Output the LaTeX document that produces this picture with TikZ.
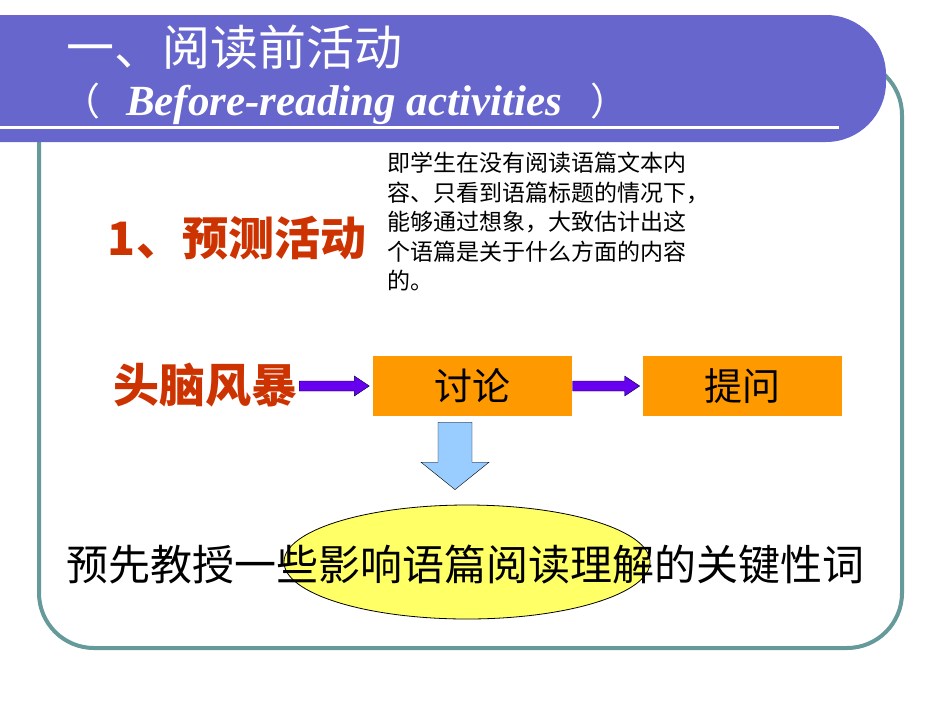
\documentclass[tikz,border=0pt]{standalone}
\usepackage{fontspec}
\setmainfont{Liberation Serif}
\newfontfamily\cjk{Noto Sans CJK SC}
\usetikzlibrary{positioning,calc,shapes.geometric}

\definecolor{bandblue}{HTML}{6666CC}
\definecolor{frameteal}{HTML}{669999}
\definecolor{headred}{HTML}{CC3300}
\definecolor{boxorange}{HTML}{FF9900}
\definecolor{arrowpurple}{HTML}{6600EE}
\definecolor{arrowblue}{HTML}{99CCFF}
\definecolor{ovalyellow}{HTML}{FFFF66}

\begin{document}
\begin{tikzpicture}[x=1pt,y=-1pt]
  % Define frame, band and box styles
  \tikzstyle{myframe} = [draw=frameteal, line width=4pt, rounded corners=55pt]
  \tikzstyle{mybox} = [fill=boxorange, minimum width=199pt, minimum height=60pt,
  inner sep=0pt, font=\cjk\fontsize{38}{40}\selectfont]
  \tikzstyle{redtitle} = [text=headred, inner sep=0pt,
  font=\cjk\bfseries\fontsize{46}{50}\selectfont]
  \tikzstyle{purplearrow} = [fill=arrowpurple, draw=blue!30!black, thin]
  \tikzstyle{bluearrow} = [fill=arrowblue, draw=black, thin]

  \useasboundingbox (0,0) rectangle (950,713);

  % frame and title band
  \draw[myframe] (39,60) rectangle (902,648);
  \fill[bandblue] (0,15) [rounded corners=60pt] -- (886,15) -- (886,142)
  [sharp corners] -- (0,142) -- cycle;
  \draw[white, line width=3pt] (0,127) -- (839,127);

  \node[text=white, inner sep=0pt, font=\cjk\fontsize{48}{52}\selectfont]
  (title) at (234,47) {一、阅读前活动};
  \node[text=white, inner sep=0pt, anchor=west] (subtitle) at (62,104)
  {{\cjk\fontsize{38}{40}\selectfont （}\hspace{26pt}%
    {\bfseries\itshape\fontsize{43}{46}\selectfont Before-reading activities}%
    \hspace{28pt}{\cjk\fontsize{38}{40}\selectfont ）}};

  % prediction
  \node[redtitle] (predict) at (237,238) {1、预测活动};
  \node[anchor=north west, inner sep=0pt, align=left,
  font=\cjk\fontsize{23}{29.5}\selectfont] (desc) at (387,152)
  {即学生在没有阅读语篇文本内\\
    容、只看到语篇标题的情况下，\\
    能够通过想象，大致估计出这\\
    个语篇是关于什么方面的内容\\
    的。};

  % flow
  \node[redtitle] (brain) at (205,385) {头脑风暴};
  \node[mybox] (discuss) at (472,386) {讨论};
  \node[mybox, right=71pt of discuss] (ask) {提问};

  \draw[purplearrow] let \p1=(brain.east), \p2=(discuss.west) in
  (\x1+2pt,\y2+5pt) -- (\x2-18pt,\y2+5pt) -- (\x2-18pt,\y2+10pt)
  -- (\x2-3pt,\y2) -- (\x2-18pt,\y2-10pt) -- (\x2-18pt,\y2-5pt)
  -- (\x1+2pt,\y2-5pt) -- cycle;
  \draw[purplearrow] let \p1=(discuss.east), \p2=(ask.west) in
  (\x1+1pt,\y2+5pt) -- (\x2-18pt,\y2+5pt) -- (\x2-18pt,\y2+10pt)
  -- (\x2-3pt,\y2) -- (\x2-18pt,\y2-10pt) -- (\x2-18pt,\y2-5pt)
  -- (\x1+1pt,\y2-5pt) -- cycle;

  % key words
  \node[ellipse, fill=ovalyellow, draw=black, thick, minimum width=366pt,
  minimum height=114pt] (keyword) at (467,562) {};
  \node[inner sep=0pt, font=\cjk\fontsize{42}{46}\selectfont]
  (sentence) at (465,565) {预先教授一些影响语篇阅读理解的关键性词};

  \draw[bluearrow] let \p1=(discuss.south), \p2=(keyword.north) in
  (\x1-34pt,\y1-6pt) -- (\x1,\y1-6pt) -- (\x1,\y1-46pt)
  -- (\x1+17pt,\y1-46pt) -- (\x1-17pt,\y2+15pt) -- (\x1-51pt,\y1-46pt)
  -- (\x1-34pt,\y1-46pt) -- cycle;
\end{tikzpicture}
\end{document}
